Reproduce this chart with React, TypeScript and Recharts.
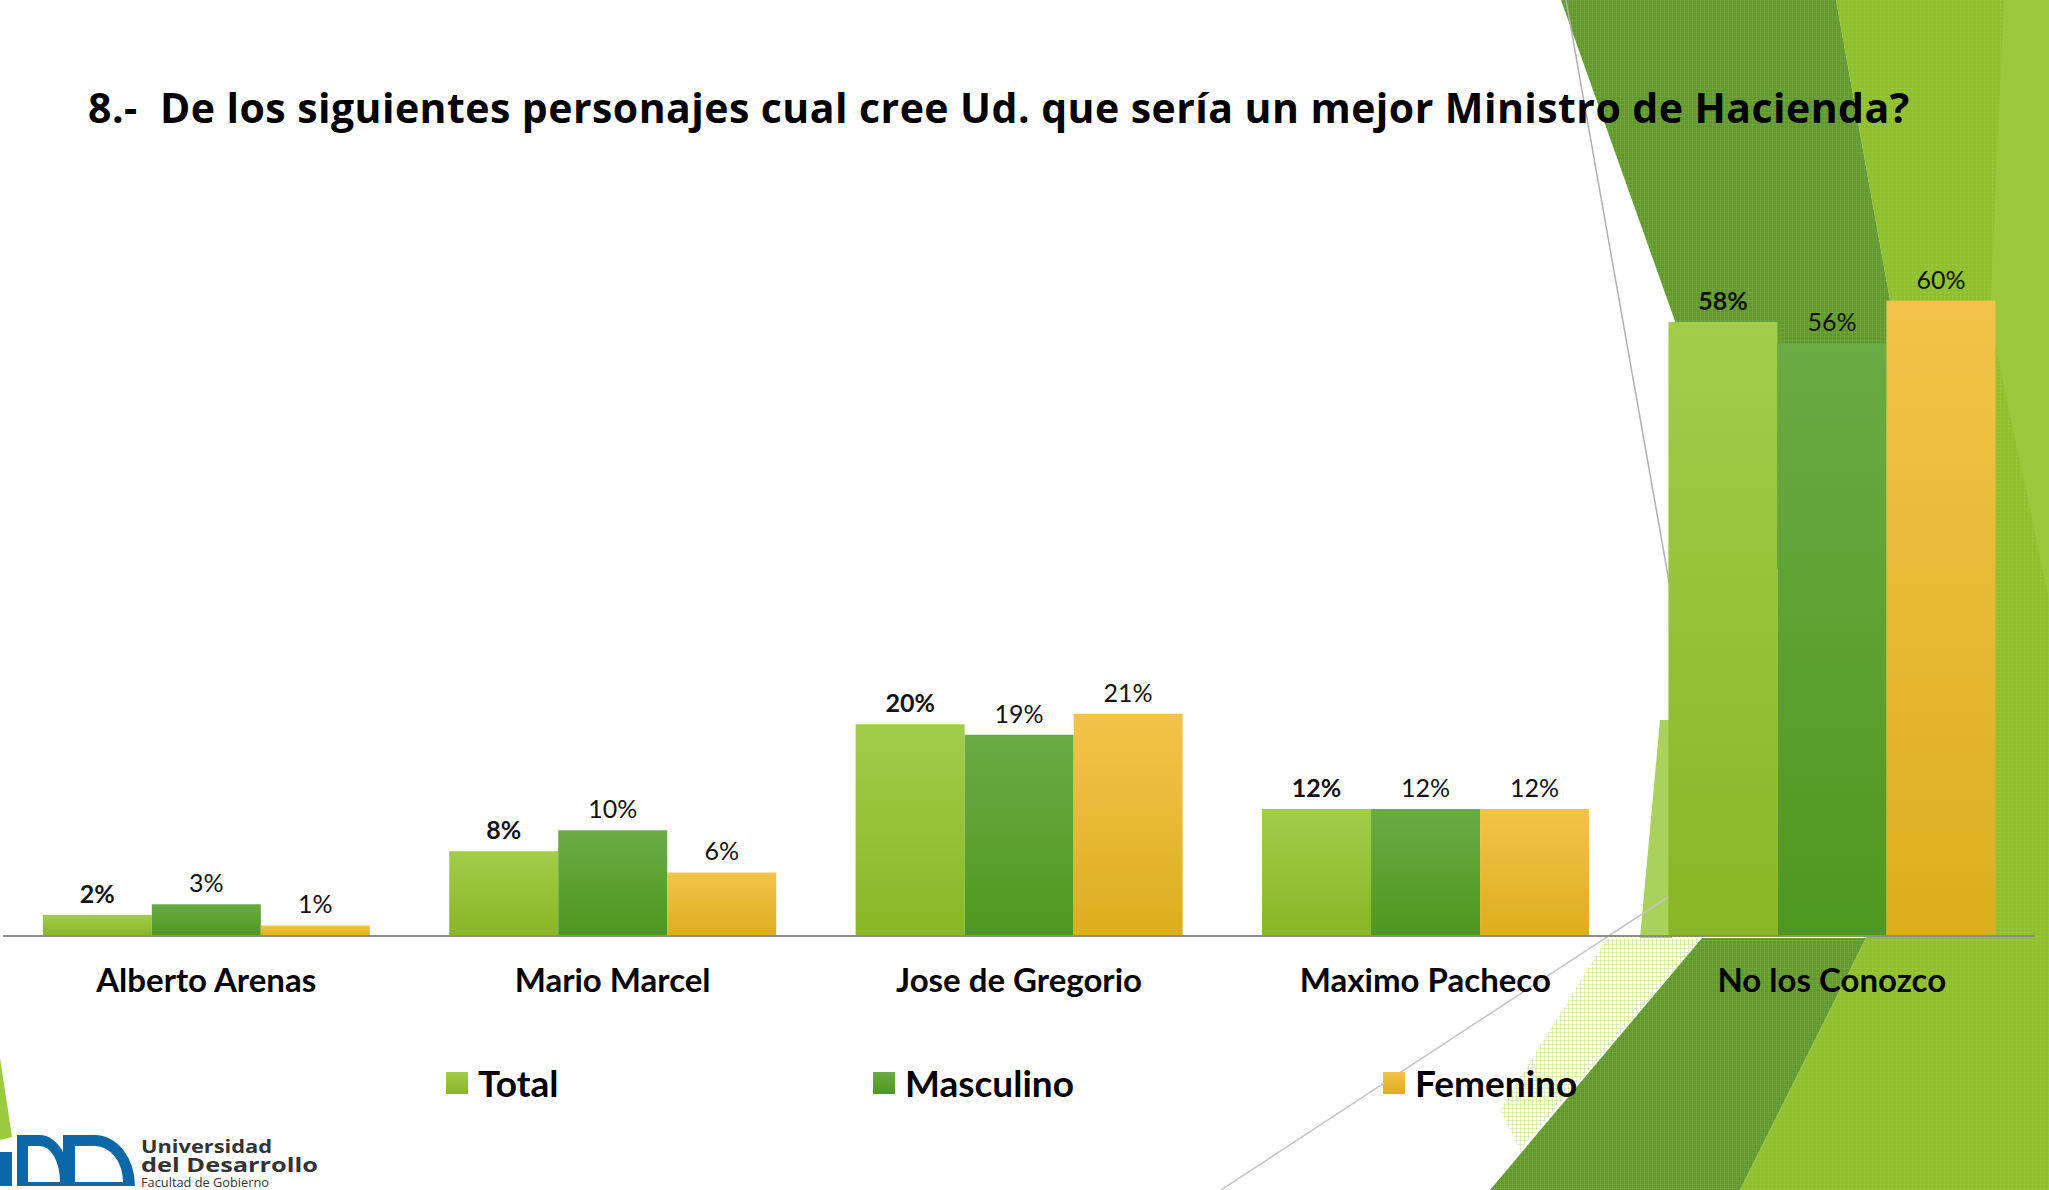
import React from "react";
import { BarChart, Bar, XAxis, YAxis, LabelList } from "recharts";

const categories = ["Alberto Arenas", "Mario Marcel", "Jose de Gregorio", "Maximo Pacheco", "No los Conozco"];
const total = [2, 8, 20, 12, 58];
const masculino = [3, 10, 19, 12, 56];
const femenino = [1, 6, 21, 12, 60];

const seriesNames = ["Total", "Masculino", "Femenino"];

const data = categories.map((name, i) => ({
  name,
  Total: total[i],
  Masculino: masculino[i],
  Femenino: femenino[i],
}));

const FONT = "Lato, 'Open Sans', sans-serif";

const legendPos: Record<string, number> = { Total: 446, Masculino: 873, Femenino: 1383 };
const legendFill: Record<string, string> = {
  Total: "linear-gradient(#a1cd4a, #88b624)",
  Masculino: "linear-gradient(#69ab44, #4f981e)",
  Femenino: "linear-gradient(#f3c349, #dcae1d)",
};

function CategoryTick(props: any) {
  const { x, y, payload } = props;
  return (
    <text x={x} y={y + 46} textAnchor="middle" dominantBaseline="middle" fontFamily={FONT} fontWeight={700} fontSize={33} fill="#000">
      {payload.value}
    </text>
  );
}

function LegendBox() {
  return (
    <div style={{ position: "absolute", left: 0, top: 1061, width: 2049, height: 44 }}>
      {seriesNames.map((s) => (
        <div key={s} style={{ position: "absolute", left: legendPos[s], top: 0, height: 44, display: "flex", alignItems: "center" }}>
          <div style={{ width: 22, height: 22, background: legendFill[s], marginRight: 10 }} />
          <span style={{ fontFamily: FONT, fontWeight: 700, fontSize: 37, color: "#000", lineHeight: "44px" }}>{s}</span>
        </div>
      ))}
    </div>
  );
}

function Background() {
  return (
    <svg width={2049} height={1190} style={{ position: "absolute", left: 0, top: 0 }}>
      <defs>
        <pattern id="hatch" width="4" height="4" patternUnits="userSpaceOnUse">
          <rect width="4" height="4" fill="#62992f" />
          <path d="M0 0 L4 0 M0 0 L0 4" stroke="#78ac40" strokeWidth="1" />
        </pattern>
        <pattern id="hatchPale" width="4" height="4" patternUnits="userSpaceOnUse">
          <rect width="4" height="4" fill="#ffffff" />
          <path d="M0 0 L4 0 M0 0 L0 4" stroke="#bfdc8a" strokeWidth="1" />
        </pattern>
        <pattern id="hatchLight" width="4" height="4" patternUnits="userSpaceOnUse">
          <rect width="4" height="4" fill="#8fc02c" />
          <path d="M0 0 L4 0 M0 0 L0 4" stroke="#9ccb40" strokeWidth="1" />
        </pattern>
      </defs>
      <polygon points="1836,0 2049,0 2049,1190 1740,1190 1870,930 1890,300" fill="url(#hatchLight)" />
      <polygon points="2004,0 2049,0 2049,600 1990,320" fill="#98c83c" />
      <polygon points="1561,0 1836,0 1890,300 1880,620 1760,560 1665,293" fill="url(#hatch)" />
      <polygon points="1660,720 1672,720 1672,938 1640,938" fill="#a9d25a" />
      <polygon points="1607,938 1702,938 1520,1150 1500,1110" fill="url(#hatchPale)" />
      <polygon points="1702,938 1866,938 1740,1190 1490,1190" fill="url(#hatch)" />
      <polygon points="0,1058 12,1137 0,1140" fill="#9acb3e" />
      <line x1="1566" y1="0" x2="1690" y2="700" stroke="#b0b0b0" strokeWidth={1.5} />
      <line x1="1221" y1="1190" x2="1668" y2="897" stroke="#c4c4c4" strokeWidth={1.5} />
    </svg>
  );
}

function Logo() {
  const blue = "#0b67a6";
  const txt = "'Open Sans', 'DejaVu Sans', sans-serif";
  return (
    <svg width={340} height={58} style={{ position: "absolute", left: 0, top: 1132 }}>
      <rect x={0} y={20} width={12} height={34} fill={blue} />
      <path d="M17 3 H40 A31 51 0 0 1 71 54 H17 Z" fill={blue} />
      <path d="M28 14 H40 A20 36 0 0 1 60 50 H28 Z" fill="#fff" />
      <path d="M63 3 H95 A40 51 0 0 1 135 54 H63 Z" fill={blue} />
      <path d="M75 14 H95 A28 36 0 0 1 123 50 H75 Z" fill="#fff" />
      <text x={141} y={21} fontFamily={txt} fontWeight={700} fontSize={18} fill="#333" textLength={131} lengthAdjust="spacingAndGlyphs">Universidad</text>
      <text x={141} y={40} fontFamily={txt} fontWeight={700} fontSize={20} fill="#333" textLength={177} lengthAdjust="spacingAndGlyphs">del Desarrollo</text>
      <text x={141} y={55} fontFamily={txt} fontSize={12} fill="#333" textLength={128} lengthAdjust="spacingAndGlyphs">Facultad de Gobierno</text>
    </svg>
  );
}

export default function App() {
  return (
    <div style={{ position: "relative", width: 2049, height: 1190, background: "#fff", overflow: "hidden" }}>
      <style>{"body{margin:0}"}</style>
      <Background />
      <div
        style={{
          position: "absolute",
          left: 88,
          top: 80,
          whiteSpace: "pre",
          fontFamily: "'Open Sans', sans-serif",
          fontWeight: 700,
          fontSize: 41,
          letterSpacing: 0.45,
          lineHeight: "54px",
          color: "#000",
        }}
      >
        {"8.-  De los siguientes personajes cual cree Ud. que sería un mejor Ministro de Hacienda?"}
      </div>
      <div style={{ position: "absolute", left: 0, top: 0 }}>
        <BarChart
          width={2049}
          height={1190}
          data={data}
          margin={{ top: 195, right: 14, bottom: 224, left: 3 }}
          barCategoryGap="9.8%"
          barGap={0}
        >
          <defs>
            <linearGradient id="gTotal" x1="0" y1="0" x2="0" y2="1">
              <stop offset="0%" stopColor="#a1cd4a" />
              <stop offset="100%" stopColor="#88b624" />
            </linearGradient>
            <linearGradient id="gMasc" x1="0" y1="0" x2="0" y2="1">
              <stop offset="0%" stopColor="#69ab44" />
              <stop offset="100%" stopColor="#4f981e" />
            </linearGradient>
            <linearGradient id="gFem" x1="0" y1="0" x2="0" y2="1">
              <stop offset="0%" stopColor="#f3c349" />
              <stop offset="100%" stopColor="#dcae1d" />
            </linearGradient>
          </defs>
          <XAxis
            dataKey="name"
            height={30}
            axisLine={{ stroke: "#8c8c8c", strokeWidth: 2 }}
            tickLine={false}
            tickSize={0}
            tick={<CategoryTick />}
            interval={0}
          />
          <YAxis hide domain={[0, 70]} />
          <Bar dataKey="Total" fill="url(#gTotal)" isAnimationActive={false}>
            <LabelList dataKey="Total" position="top" offset={12} formatter={(v: any) => `${v}%`} style={{ fontFamily: FONT, fontWeight: 700, fontSize: 25, fill: "#111" }} />
          </Bar>
          <Bar dataKey="Masculino" fill="url(#gMasc)" isAnimationActive={false}>
            <LabelList dataKey="Masculino" position="top" offset={12} formatter={(v: any) => `${v}%`} style={{ fontFamily: FONT, fontWeight: 400, fontSize: 25, fill: "#111" }} />
          </Bar>
          <Bar dataKey="Femenino" fill="url(#gFem)" isAnimationActive={false}>
            <LabelList dataKey="Femenino" position="top" offset={12} formatter={(v: any) => `${v}%`} style={{ fontFamily: FONT, fontWeight: 400, fontSize: 25, fill: "#111" }} />
          </Bar>
        </BarChart>
      </div>
      <LegendBox />
      <Logo />
    </div>
  );
}
